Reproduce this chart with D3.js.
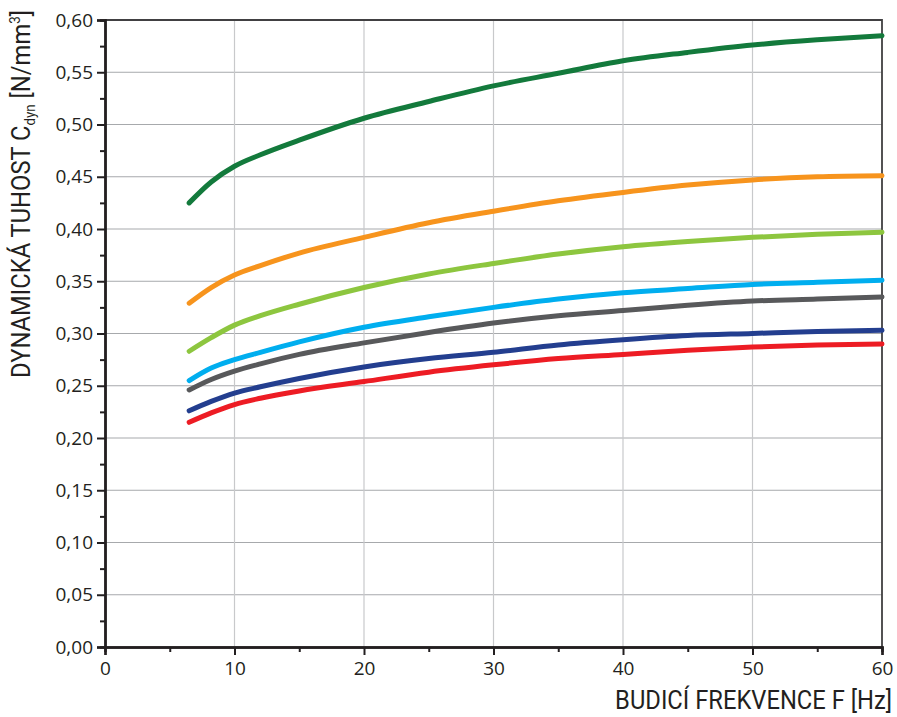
<!DOCTYPE html>
<html>
<head>
<meta charset="utf-8">
<script src="https://cdn.jsdelivr.net/npm/d3@7"></script>
<style>
  body { margin: 0; background: #fff; }
  text { font-family: "Open Sans", "Noto Sans", sans-serif; fill: #231f20; }
  .title { font-family: Roboto, "Open Sans", sans-serif; font-weight: 400; }
</style>
</head>
<body>
<div id="chart"></div>
<script>
// Data
const freq = [6.5, 8.2, 10, 12, 15, 20, 25, 30, 35, 40, 45, 50, 55, 60];

const darkGreen  = [0.425, 0.445, 0.460, 0.471, 0.485, 0.506, 0.522, 0.537, 0.549, 0.561, 0.569, 0.576, 0.581, 0.585];
const orange     = [0.329, 0.344, 0.356, 0.365, 0.377, 0.392, 0.406, 0.417, 0.427, 0.435, 0.442, 0.447, 0.450, 0.451];
const lightGreen = [0.283, 0.296, 0.308, 0.317, 0.328, 0.344, 0.357, 0.367, 0.376, 0.383, 0.388, 0.392, 0.395, 0.397];
const cyan       = [0.255, 0.267, 0.275, 0.282, 0.292, 0.306, 0.316, 0.325, 0.333, 0.339, 0.343, 0.347, 0.349, 0.351];
const gray       = [0.246, 0.256, 0.264, 0.271, 0.280, 0.291, 0.301, 0.310, 0.317, 0.322, 0.327, 0.331, 0.333, 0.335];
const navy       = [0.226, 0.235, 0.243, 0.249, 0.257, 0.268, 0.276, 0.282, 0.289, 0.294, 0.298, 0.300, 0.302, 0.303];
const red        = [0.215, 0.224, 0.232, 0.238, 0.245, 0.254, 0.263, 0.270, 0.276, 0.280, 0.284, 0.287, 0.289, 0.290];

const series = [
    { values: red, color: "#ed1c24" },
    { values: navy, color: "#233e8f" },
    { values: gray, color: "#58595b" },
    { values: cyan, color: "#00aeef" },
    { values: lightGreen, color: "#8dc63f" },
    { values: orange, color: "#f7941d" },
    { values: darkGreen, color: "#137a3c" }
];

const xTicks = [0, 10, 20, 30, 40, 50, 60];
const yTicks = [0, 0.05, 0.10, 0.15, 0.20, 0.25, 0.30, 0.35, 0.40, 0.45, 0.50, 0.55, 0.60];

// Dimensions
const W = 897, H = 717;
const margin = { top: 20, right: 15, bottom: 70, left: 105 };
const width = W - margin.left - margin.right;
const height = H - margin.top - margin.bottom;

const svg = d3.select("#chart")
    .append("svg")
    .attr("width", W)
    .attr("height", H)
    .append("g")
    .attr("transform", `translate(${margin.left},${margin.top})`);

const x = d3.scaleLinear().domain([0, 60]).range([0, width]);
const y = d3.scaleLinear().domain([0, 0.6]).range([height, 0]);

// Grid lines
svg.append("g")
    .selectAll("line")
    .data(yTicks.slice(1, -1))
    .join("line")
    .attr("x1", 0).attr("x2", width)
    .attr("y1", d => y(d)).attr("y2", d => y(d))
    .attr("stroke", "#a7a9ac")
    .attr("stroke-width", 1);

svg.append("g")
    .selectAll("line")
    .data(xTicks.slice(1, -1))
    .join("line")
    .attr("x1", d => x(d)).attr("x2", d => x(d))
    .attr("y1", 0).attr("y2", height)
    .attr("stroke", "#c8c9cb")
    .attr("stroke-width", 1.2);

// Frame (top and right)
svg.append("path")
    .attr("d", `M0,0H${width}V${height}`)
    .attr("fill", "none")
    .attr("stroke", "#414042")
    .attr("stroke-width", 1.8);

// Axes
const fmt = d => d3.format(".2f")(d).replace(".", ",");

const yAxis = svg.append("g")
    .call(d3.axisLeft(y).tickValues(yTicks).tickFormat(fmt).tickSize(8).tickPadding(4));
const yMinor = svg.append("g")
    .call(d3.axisLeft(y).tickValues(d3.range(0.025, 0.6, 0.05)).tickFormat("").tickSize(5));

const xAxis = svg.append("g")
    .attr("transform", `translate(0,${height})`)
    .call(d3.axisBottom(x).tickValues(xTicks).tickSize(8).tickPadding(7));
const xMinor = svg.append("g")
    .attr("transform", `translate(0,${height})`)
    .call(d3.axisBottom(x).tickValues(d3.range(5, 60, 10)).tickFormat("").tickSize(5));

[yAxis, yMinor, xAxis, xMinor].forEach(a => {
    a.select(".domain").attr("stroke", "#231f20").attr("stroke-width", 2.4);
    a.selectAll(".tick line").attr("stroke", "#231f20").attr("stroke-width", 2);
    a.selectAll("text")
        .style("font-size", "19px")
        .style("font-family", "'Open Sans', sans-serif")
        .attr("fill", "#231f20");
});

// Lines
const line = d3.line()
    .x((d, i) => x(freq[i]))
    .y(d => y(d))
    .curve(d3.curveMonotoneX);

svg.selectAll(".series")
    .data(series)
    .join("path")
    .attr("class", "series")
    .attr("fill", "none")
    .attr("stroke", d => d.color)
    .attr("stroke-width", 5)
    .attr("stroke-linecap", "round")
    .attr("d", d => line(d.values));

// X axis label
svg.append("text")
    .attr("class", "title")
    .attr("transform", `translate(${width + 10},${height + 62}) scale(0.95,1)`)
    .style("text-anchor", "end")
    .style("font-size", "25px")
    .text("BUDICÍ FREKVENCE  F [Hz]");

// Y axis label
const yLabel = svg.append("text")
    .attr("class", "title")
    .attr("transform", `translate(${-margin.left + 30},${-10}) rotate(-90) scale(0.95,1)`)
    .style("text-anchor", "end")
    .style("font-size", "25px");
yLabel.append("tspan").text("DYNAMICKÁ TUHOST C");
yLabel.append("tspan").attr("dy", 5).style("font-size", "14px").text("dyn");
yLabel.append("tspan").attr("dy", -5).text("  [N/mm");
yLabel.append("tspan").attr("dy", -10).style("font-size", "14px").text("3");
yLabel.append("tspan").attr("dy", 10).text("]");
</script>
</body>
</html>
